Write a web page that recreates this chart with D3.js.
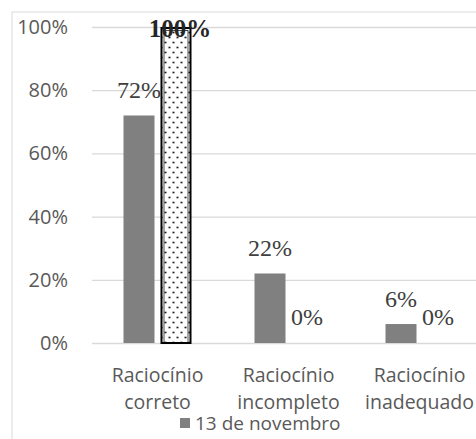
<!DOCTYPE html>
<html>
<head>
<meta charset="utf-8">
<script src="https://cdn.jsdelivr.net/npm/d3@7"></script>
<style>
  html, body { margin: 0; padding: 0; background: #fff; }
  svg { display: block; }
</style>
</head>
<body>
<svg id="chart" width="476" height="439"></svg>
<script>
// Categories and the two series of percentages
const categories = [["Raciocínio", "correto"], ["Raciocínio", "incompleto"], ["Raciocínio", "inadequado"]];
const seriesNames = ["13 de novembro", "segunda data"];
const serieA = [72, 22, 6];
const serieB = [100, 0, 0];
const yTicks = [0, 20, 40, 60, 80, 100];

const svg = d3.select("#chart");
const W = 476, H = 439;

const plot = { left: 92, right: 485, top: 27, bottom: 343 };
const catKeys = categories.map(c => c.join(" "));

const x0 = d3.scaleBand()
  .domain(catKeys)
  .range([plot.left, plot.right])
  .paddingInner(63 / 131)
  .paddingOuter(31.5 / 131);

const x1 = d3.scaleBand()
  .domain(seriesNames)
  .range([0, x0.bandwidth()])
  .paddingInner(6 / 37);

const y = d3.scaleLinear().domain([0, 100]).range([plot.bottom, plot.top]);

// Dotted fill pattern for the second series
const defs = svg.append("defs");
const pat = defs.append("pattern")
  .attr("id", "dots")
  .attr("patternUnits", "userSpaceOnUse")
  .attr("width", 8).attr("height", 10)
  .attr("x", 0).attr("y", 0);
pat.append("rect").attr("width", 8).attr("height", 10).attr("fill", "#fff");
[[2, 2.5, 0.95], [6, 7.5, 0.95]].forEach(([cx, cy, r]) =>
  pat.append("circle").attr("cx", cx).attr("cy", cy).attr("r", r).attr("fill", "#000"));

// Chart frame
svg.append("rect")
  .attr("x", 12).attr("y", 12)
  .attr("width", W).attr("height", H)
  .attr("fill", "none").attr("stroke", "#d9d9d9").attr("stroke-width", 1);

// Gridlines and y axis labels
const yAxis = d3.axisLeft(y)
  .tickValues(yTicks)
  .tickSize(-(W - plot.left))
  .tickFormat(d => d + "%");
const gy = svg.append("g")
  .attr("transform", `translate(${plot.left},0)`)
  .call(yAxis);
gy.select(".domain").remove();
gy.selectAll(".tick line").attr("stroke", "#d9d9d9").attr("stroke-width", 1.3);
gy.selectAll(".tick text")
  .attr("x", -24)
  .attr("fill", "#595959")
  .attr("font-family", "'Open Sans', sans-serif")
  .attr("font-size", 20);

// Bars
const groups = svg.append("g").selectAll("g")
  .data(catKeys)
  .join("g")
  .attr("transform", d => `translate(${x0(d)},0)`);

groups.append("rect")
  .attr("x", x1(seriesNames[0]))
  .attr("y", (d, i) => y(serieA[i]))
  .attr("width", x1.bandwidth())
  .attr("height", (d, i) => y(0) - y(serieA[i]))
  .attr("fill", "#808080");

groups.each(function (d, i) {
  const v = serieB[i];
  if (v <= 0) return;
  const g = d3.select(this);
  const bx = x1(seriesNames[1]), bw = x1.bandwidth();
  g.append("rect")
    .attr("x", bx + 1).attr("y", y(v) + 1)
    .attr("width", bw - 2).attr("height", y(0) - y(v) - 1)
    .attr("fill", "url(#dots)")
    .attr("stroke", "#000").attr("stroke-width", 2);
  g.append("rect")
    .attr("x", bx + 3.5).attr("y", y(v) + 3.5)
    .attr("width", bw - 7).attr("height", y(0) - y(v) - 3.5)
    .attr("fill", "none")
    .attr("stroke", "#000").attr("stroke-width", 0.7);
});

// Value labels
const labelFont = "'Liberation Serif', 'Times New Roman', serif";
groups.append("text")
  .attr("x", x1(seriesNames[0]) + x1.bandwidth() / 2)
  .attr("y", (d, i) => y(serieA[i]) - 17)
  .attr("text-anchor", "middle")
  .attr("fill", "#404040")
  .attr("font-family", labelFont)
  .attr("font-size", 24)
  .text((d, i) => serieA[i] + "%");

groups.append("text")
  .attr("x", x1(seriesNames[1]) + x1.bandwidth() / 2)
  .attr("dx", (d, i) => serieB[i] === 100 ? 4 : 0)
  .attr("y", (d, i) => serieB[i] === 100 ? y(serieB[i]) + 10 : y(serieB[i]) - 18)
  .attr("text-anchor", "middle")
  .attr("fill", (d, i) => serieB[i] === 100 ? "#262626" : "#404040")
  .attr("font-weight", (d, i) => serieB[i] === 100 ? "bold" : "normal")
  .attr("font-family", labelFont)
  .attr("font-size", (d, i) => serieB[i] === 100 ? 25 : 24)
  .text((d, i) => serieB[i] + "%");

// Category labels
const catText = groups.append("text")
  .attr("text-anchor", "middle")
  .attr("fill", "#595959")
  .attr("font-family", "'Open Sans', sans-serif")
  .attr("font-size", 19.5);
catText.selectAll("tspan")
  .data((d, i) => categories[i])
  .join("tspan")
  .attr("x", x0.bandwidth() / 2)
  .attr("y", (t, j) => 382 + j * 27)
  .text(t => t);

// Legend (first entry)
const legend = svg.append("g").attr("transform", "translate(180,418)");
legend.append("rect").attr("width", 10).attr("height", 10).attr("fill", "#808080");
legend.append("text")
  .attr("x", 15).attr("y", 12)
  .attr("fill", "#595959")
  .attr("font-family", "'Open Sans', sans-serif")
  .attr("font-size", 19)
  .text(seriesNames[0]);
</script>
</body>
</html>
